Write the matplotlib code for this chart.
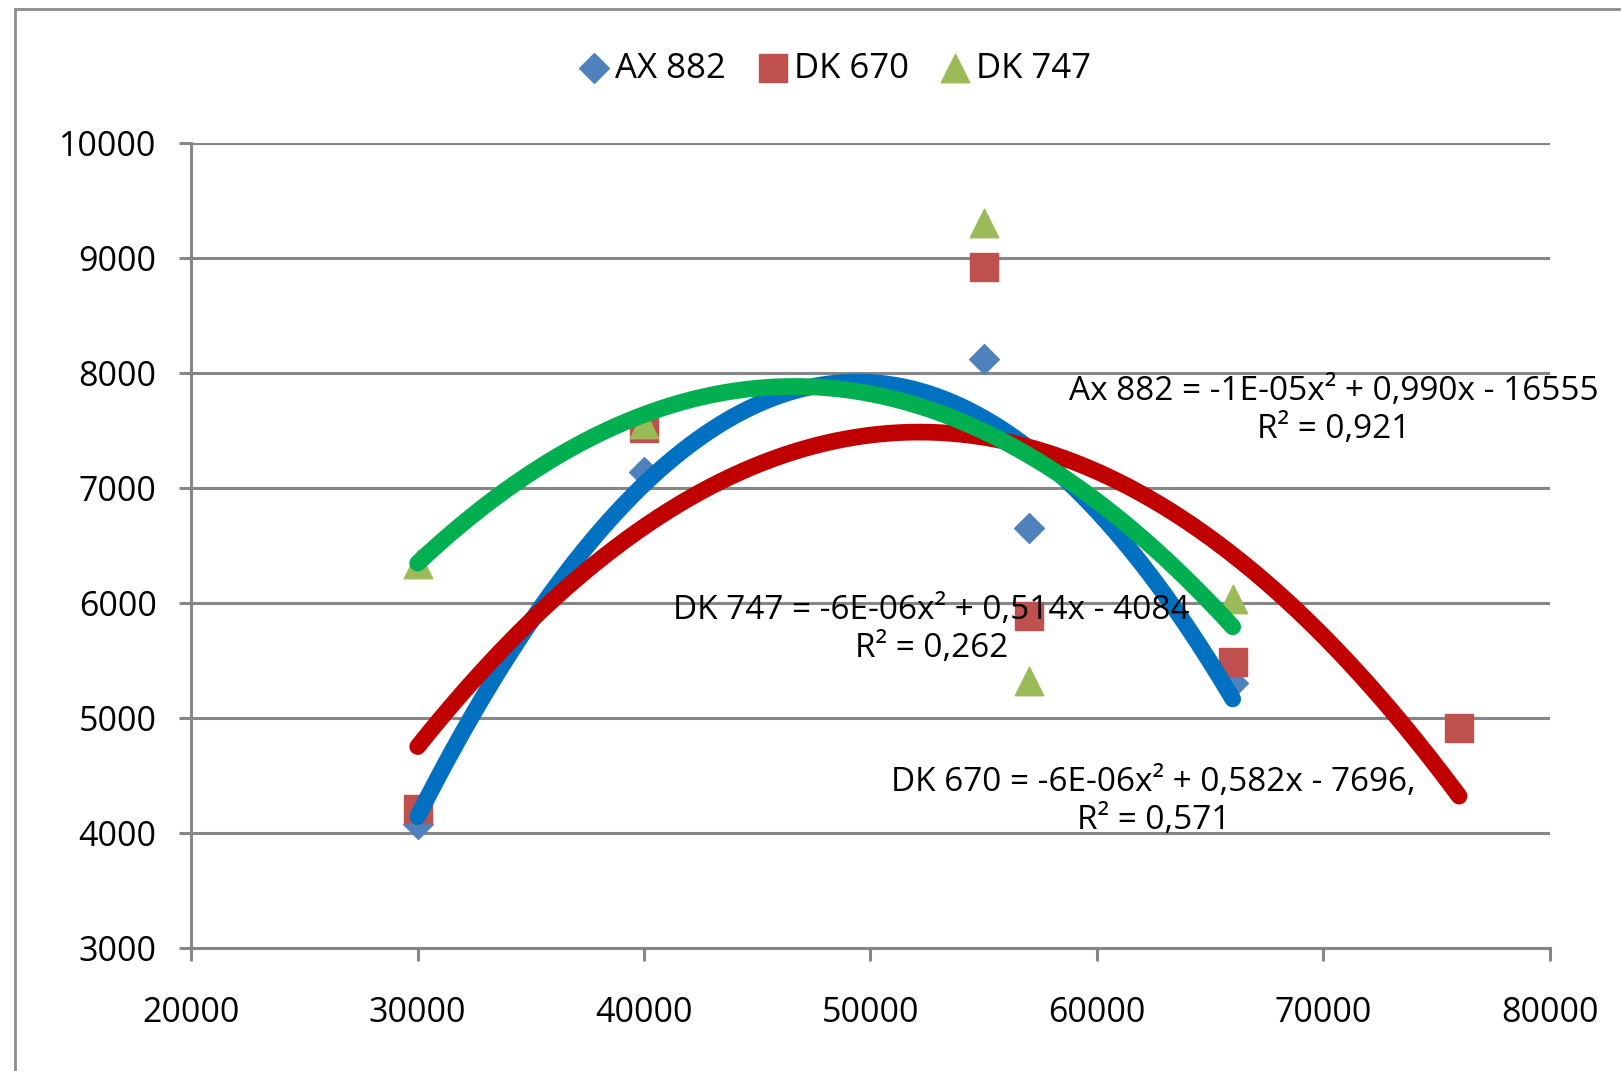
import numpy as np
import matplotlib.pyplot as plt
from matplotlib.patches import Rectangle

# ---- data ----
ax882_x = [30000, 40000, 55000, 57000, 66000]
ax882_y = [4080, 7140, 8120, 6650, 5300]

dk670_x = [30000, 40000, 55000, 57000, 66000, 76000]
dk670_y = [4210, 7520, 8920, 5890, 5490, 4915]

dk747_x = [30000, 40000, 55000, 57000, 66000]
dk747_y = [6340, 7560, 9300, 5320, 6030]

x_ticks = [20000, 30000, 40000, 50000, 60000, 70000, 80000]
y_ticks = [3000, 4000, 5000, 6000, 7000, 8000, 9000, 10000]

eq_ax882 = "Ax 882 = -1E-05x² + 0,990x - 16555\nR² = 0,921"
eq_dk747 = "DK 747 = -6E-06x² + 0,514x - 4084\nR² = 0,262"
eq_dk670 = "DK 670 = -6E-06x² + 0,582x - 7696,\nR² = 0,571"

plt.rcParams['font.family'] = ['Open Sans', 'DejaVu Sans']

fig = plt.figure(figsize=(16.21, 10.71), dpi=100)
ax = fig.add_axes([0.118, 0.115, 0.838, 0.7515])

# chart area border (top/left visible)
fig.patches.append(Rectangle((0.009, -0.05), 1.1, 1.042, transform=fig.transFigure,
                             fill=False, edgecolor="#8c8c8c", lw=2))

# markers
ax.scatter(ax882_x, ax882_y, marker="D", s=230, color="#4F81BD", zorder=3, label="AX 882")
ax.scatter(dk670_x, dk670_y, marker="s", s=420, color="#C0504D", zorder=3, label="DK 670")
ax.scatter(dk747_x, dk747_y, marker="^", s=420, color="#9BBB59", zorder=3, label="DK 747")

# polynomial trendlines (order 2), like Excel
for xs, ys, c in [(ax882_x, ax882_y, "#0070C0"),
                  (dk670_x, dk670_y, "#C00000"),
                  (dk747_x, dk747_y, "#00B050")]:
    p = np.polyfit(xs, ys, 2)
    xx = np.linspace(min(xs), max(xs), 300)
    ax.plot(xx, np.polyval(p, xx), color=c, lw=12, solid_capstyle="round", zorder=4)

ax.set_xlim(20000, 80000)
ax.set_ylim(3000, 10000)
ax.set_xticks(x_ticks)
ax.set_yticks(y_ticks)
ax.grid(axis="y", color="#868686", lw=2.2)
ax.set_axisbelow(True)
for s in ["top", "right"]:
    ax.spines[s].set_visible(False)
for s in ["left", "bottom"]:
    ax.spines[s].set_color("#868686")
    ax.spines[s].set_linewidth(2.2)
ax.tick_params(axis="both", labelsize=24.5, color="#868686", width=2.2, length=9)
ax.tick_params(axis="x", pad=26)
ax.tick_params(axis="y", pad=16)

# trendline labels
ax.text(70450, 7670, eq_ax882, fontsize=24, ha="center", va="center", linespacing=1.2, zorder=5)
ax.text(52700, 5770, eq_dk747, fontsize=24, ha="center", va="center", linespacing=1.2, zorder=5)
ax.text(62500, 4270, eq_dk670, fontsize=24, ha="center", va="center", linespacing=1.2, zorder=5)

fig.legend(loc="center", bbox_to_anchor=(0.514, 0.936), ncol=3, frameon=False, fontsize=25,
           handletextpad=0.05, columnspacing=0.8, markerscale=1.0, handlelength=1.1)

fig.savefig("out.png", dpi=100)
